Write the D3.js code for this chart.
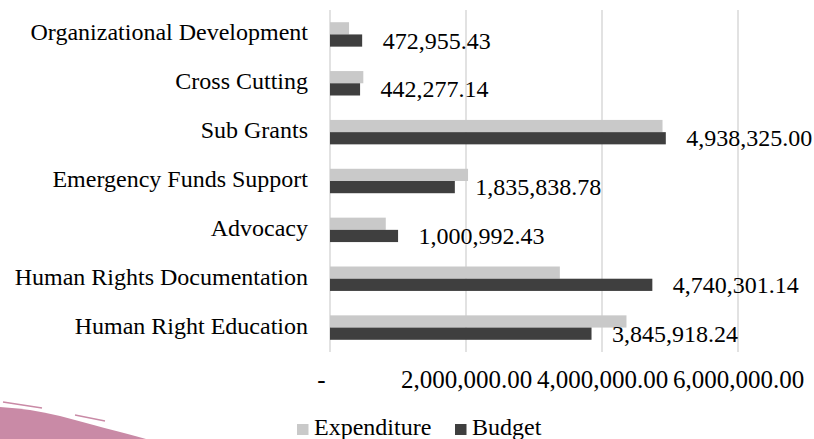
<!DOCTYPE html>
<html><head><meta charset="utf-8">
<script src="https://cdn.jsdelivr.net/npm/d3@7"></script>
<style>
body{margin:0;background:#fff;}
svg{display:block;}
</style></head>
<body><svg id="c" width="814" height="439"></svg>
<script>
const categories = ["Organizational Development","Cross Cutting","Sub Grants","Emergency Funds Support","Advocacy","Human Rights Documentation","Human Right Education"];
const expenditure = [280000, 490000, 4890000, 2030000, 820000, 3380000, 4360000];
const budget = [472955.43, 442277.14, 4938325.00, 1835838.78, 1000992.43, 4740301.14, 3845918.24];
const tickValues = [0, 2000000, 4000000, 6000000];
const tickLabels = ["-", "2,000,000.00", "4,000,000.00", "6,000,000.00"];
const seriesNames = ["Expenditure", "Budget"];
const colors = ["#c9c9c9", "#3f3f3f"];
const FONT = '"Liberation Serif"';

const svg = d3.select("#c");
const x = d3.scaleLinear().domain([0, 6000000]).range([330, 738]);
const y = d3.scaleBand().domain(categories).range([10, 352]).paddingInner(0.5).paddingOuter(0.25);
const sub = d3.scaleBand().domain(seriesNames).range([0, y.bandwidth()]);

// decorative swoosh
svg.append("path").attr("fill","#c98aa6")
  .attr("d","M0,407 C20,408 40,411 60,416 C90,424 120,432 146,439 L0,439 Z");
svg.append("path").attr("stroke","#c98aa6").attr("stroke-width",1.5).attr("fill","none")
  .attr("d","M3,402 L42,408");
svg.append("path").attr("stroke","#c98aa6").attr("stroke-width",1.5).attr("fill","none")
  .attr("d","M75,415 L105,421");

// gridlines
svg.append("g").selectAll("line").data(tickValues).join("line")
  .attr("x1",d=>x(d)).attr("x2",d=>x(d)).attr("y1",10).attr("y2",352)
  .attr("stroke","#d9d9d9").attr("stroke-width",1.5);

// x axis
const xAxis = d3.axisBottom(x).tickValues(tickValues).tickFormat((d,i)=>tickLabels[i]).tickSize(0).tickPadding(0);
const ax = svg.append("g").call(xAxis).attr("font-family",null).attr("font-size",null);
ax.select(".domain").remove();
ax.selectAll("text").style("font-family",FONT).style("font-size","25px").attr("fill","#000")
  .attr("y",388).attr("dy",null);
ax.selectAll(".tick").filter((d,i)=>i===0).select("text").attr("dx",-9);

// y axis
const yAxis = d3.axisLeft(y).tickSize(0).tickPadding(22);
const ay = svg.append("g").attr("transform","translate(330,0)").call(yAxis).attr("font-family",null).attr("font-size",null);
ay.select(".domain").remove();
ay.selectAll("text").style("font-family",FONT).style("font-size","24px").attr("fill","#000").attr("dy","0.25em");

// bars
const g = svg.append("g");
categories.forEach((c,i)=>{
  g.append("rect").attr("x",x(0)).attr("y",y(c)+sub("Expenditure"))
   .attr("width",x(expenditure[i])-x(0)).attr("height",sub.bandwidth()).attr("fill",colors[0]);
  g.append("rect").attr("x",x(0)).attr("y",y(c)+sub("Budget"))
   .attr("width",x(budget[i])-x(0)).attr("height",sub.bandwidth()).attr("fill",colors[1]);
  g.append("text").attr("x",x(budget[i])+20.5).attr("y",y(c)+sub("Budget")+sub.bandwidth()/2+8)
   .style("font-family",FONT).style("font-size","24px").attr("fill","#000").text(d3.format(",.2f")(budget[i]));
});

// legend
const lx = [297, 455];
seriesNames.forEach((s,i)=>{
  svg.append("rect").attr("x",lx[i]).attr("y",424).attr("width",11.5).attr("height",11).attr("fill",colors[i]);
  svg.append("text").attr("x",lx[i]+17).attr("y",435).style("font-family",FONT).style("font-size","24px").attr("fill","#000").text(s);
});
</script></body></html>
